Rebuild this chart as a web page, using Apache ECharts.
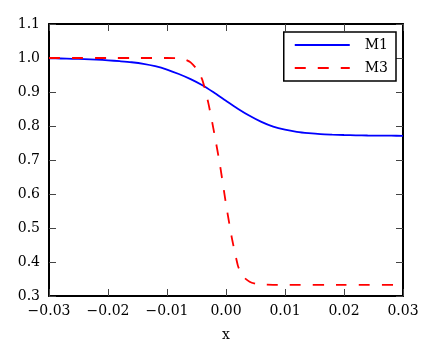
<!DOCTYPE html>
<html>
<head>
<meta charset="utf-8">
<script src="https://cdn.jsdelivr.net/npm/echarts@6/dist/echarts.min.js"></script>
<style>
  html, body { margin: 0; padding: 0; background: #fff; }
  #chart { width: 437px; height: 360px; }
</style>
</head>
<body>
<div id="chart"></div>
<script>
// values
const m1X = [-0.03, -0.028, -0.026, -0.024, -0.022, -0.02, -0.018, -0.016, -0.014, -0.012,
  -0.01, -0.008, -0.006, -0.004, -0.002, -0.001, 0, 0.002, 0.004, 0.006, 0.008,
  0.01, 0.012, 0.014, 0.016, 0.018, 0.02, 0.022, 0.024, 0.026, 0.028, 0.03];
const m1Y = [0.999, 0.9985, 0.9977, 0.9966, 0.9952, 0.9932, 0.9906, 0.9875, 0.983, 0.976,
  0.966, 0.953, 0.938, 0.920, 0.898, 0.886, 0.874, 0.851, 0.830, 0.812, 0.798,
  0.789, 0.783, 0.779, 0.776, 0.7745, 0.7735, 0.7727, 0.7721, 0.7717, 0.7714, 0.7712];

const m3X = [-0.03, -0.025, -0.02, -0.015, -0.01, -0.008, -0.007, -0.006, -0.005, -0.004,
  -0.003, -0.002, -0.001, 0, 0.001, 0.002, 0.0025, 0.003, 0.004, 0.005,
  0.006, 0.008, 0.01, 0.02, 0.03];
const m3Y = [1.0, 1.0, 1.0, 1.0, 1.0, 0.999, 0.996, 0.987, 0.968, 0.935,
  0.868, 0.780, 0.683, 0.570, 0.470, 0.390, 0.368, 0.355, 0.342, 0.336,
  0.334, 0.333, 0.333, 0.333, 0.333];

const xTicks = { min: -0.03, max: 0.03, interval: 0.01 };
const yTicks = { min: 0.3, max: 1.1, interval: 0.1 };

const font = 'DejaVu Serif';

function zip(xs, ys) {
  return xs.map((x, i) => [x, ys[i]]);
}

function fmtX(v) {
  if (Math.abs(v) < 1e-9) return '0.00';
  return (v < 0 ? '\u2212' : '') + Math.abs(v).toFixed(2);
}

const frameLine = { show: true, onZero: false, lineStyle: { color: '#000', width: 2 } };
const tick = { show: true, inside: true, length: 7, lineStyle: { color: '#444', width: 1 } };

const chart = echarts.init(document.getElementById('chart'), null, { renderer: 'canvas' });

const option = {
  animation: false,
  backgroundColor: '#fff',
  grid: { left: 49, top: 24, right: 34, bottom: 64 },
  legend: {
    orient: 'vertical',
    right: 41,
    top: 32,
    padding: [6, 8, 6, 10],
    itemWidth: 55,
    itemHeight: 14,
    itemGap: 9,
    borderColor: '#000',
    borderWidth: 1.5,
    backgroundColor: '#fff',
    itemStyle: { opacity: 0 },
    textStyle: { fontFamily: font, fontSize: 14, color: '#000', padding: [0, 0, 0, 10] },
    data: ['M1', 'M3'],
  },
  xAxis: [{
    type: 'value',
    min: xTicks.min,
    max: xTicks.max,
    interval: xTicks.interval,
    name: 'x',
    nameLocation: 'middle',
    nameGap: 32,
    nameTextStyle: { fontFamily: font, fontSize: 14, color: '#000' },
    axisLine: frameLine,
    axisTick: tick,
    splitLine: { show: false },
    axisLabel: { fontFamily: font, fontSize: 14, color: '#000', margin: 8, formatter: fmtX },
  }, {
    type: 'value',
    position: 'top',
    min: xTicks.min,
    max: xTicks.max,
    interval: xTicks.interval,
    axisLine: frameLine,
    axisTick: tick,
    splitLine: { show: false },
    axisLabel: { show: false },
  }],
  yAxis: [{
    type: 'value',
    min: yTicks.min,
    max: yTicks.max,
    interval: yTicks.interval,
    axisLine: frameLine,
    axisTick: tick,
    splitLine: { show: false },
    axisLabel: { fontFamily: font, fontSize: 14, color: '#000', margin: 9, formatter: (v) => v.toFixed(1) },
  }, {
    type: 'value',
    position: 'right',
    min: yTicks.min,
    max: yTicks.max,
    interval: yTicks.interval,
    axisLine: frameLine,
    axisTick: tick,
    splitLine: { show: false },
    axisLabel: { show: false },
  }],
  series: [{
    name: 'M1',
    type: 'line',
    symbol: 'none',
    smooth: 0.3,
    color: '#0000ff',
    lineStyle: { color: '#0000ff', width: 1.8 },
    data: zip(m1X, m1Y),
  }, {
    name: 'M3',
    type: 'line',
    symbol: 'none',
    smooth: 0.2,
    color: '#ff0000',
    lineStyle: { color: '#ff0000', width: 1.8, type: [11, 12] },
    data: zip(m3X, m3Y),
  }],
};

chart.setOption(option);
</script>
</body>
</html>
